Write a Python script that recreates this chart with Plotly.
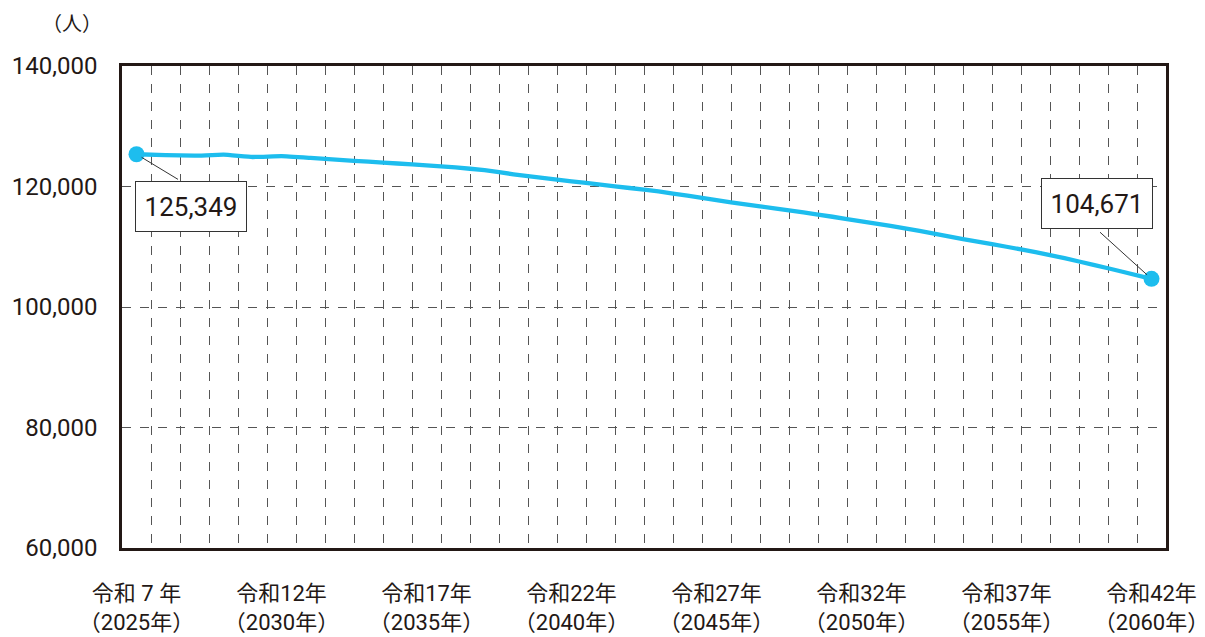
import plotly.graph_objects as go

# Projected population by year (persons)
years = list(range(2025, 2061))
population = [
    125349, 125200, 125110, 125280, 124900, 125030, 124750, 124420, 124120, 123820,
    123520, 123180, 122700, 122030, 121450, 120870, 120320, 119750, 119180, 118480,
    117720, 117030, 116370, 115700, 114980, 114220, 113450, 112620, 111720, 110850,
    110000, 109100, 108100, 107000, 105850, 104671,
]

label_years = [2025, 2030, 2035, 2040, 2045, 2050, 2055, 2060]
label_text = [
    "令和 7 年<br>（2025年）", "令和12年<br>（2030年）", "令和17年<br>（2035年）",
    "令和22年<br>（2040年）", "令和27年<br>（2045年）", "令和32年<br>（2050年）",
    "令和37年<br>（2055年）", "令和42年<br>（2060年）",
]
y_ticks = [60000, 80000, 100000, 120000, 140000]
y_unit = "（人）"

FONT = "Roboto, Noto Sans CJK JP, sans-serif"
INK = "#231815"
LINE_BLUE = "#1DBDEE"
GRID = "#555555"

fig = go.Figure()

# invisible helper trace so the per-year grid axis is rendered
fig.add_trace(go.Scatter(x=[years[0], years[-1]], y=[None, None], xaxis="x2",
                         mode="lines", showlegend=False, hoverinfo="skip"))

fig.add_trace(go.Scatter(
    x=years, y=population, mode="lines",
    line=dict(color=LINE_BLUE, width=4.3, shape="spline", smoothing=0.3),
    showlegend=False,
))
fig.add_trace(go.Scatter(
    x=[years[0], years[-1]], y=[population[0], population[-1]], mode="markers",
    marker=dict(color=LINE_BLUE, size=16), showlegend=False,
))

x_range = [years[0] - 0.5, years[-1] + 0.5]

fig.update_layout(
    width=1205, height=637,
    margin=dict(l=122, r=39, t=66, b=89, autoexpand=False),
    paper_bgcolor="white", plot_bgcolor="white",
    font=dict(family=FONT, color=INK),
    xaxis=dict(
        range=x_range, tickmode="array", tickvals=label_years, ticktext=label_text,
        showgrid=False, zeroline=False, ticks="", ticklabelstandoff=24,
        ticklabeloverflow="allow", automargin=False,
        tickfont=dict(size=22, family=FONT, color=INK),
        showline=True, mirror=True, linewidth=2.5, linecolor=INK,
    ),
    xaxis2=dict(
        range=x_range, overlaying="x", side="bottom", tick0=years[0] + 0.5, dtick=1,
        showgrid=True, griddash="dash", gridcolor=GRID, gridwidth=1,
        showticklabels=False, ticks="", zeroline=False, showline=False,
        automargin=False,
    ),
    yaxis=dict(
        range=[60000, 140000], tickmode="array", tickvals=y_ticks,
        tickformat=",", showgrid=True, griddash="dash", gridcolor=GRID, gridwidth=1,
        zeroline=False, ticks="", ticklabelstandoff=17, automargin=False,
        tickfont=dict(size=24, family=FONT, color=INK),
        showline=True, mirror=True, linewidth=2.5, linecolor=INK,
    ),
)

box_style = dict(
    xref="x", yref="y", showarrow=False, bgcolor="white",
    bordercolor="#333333", borderwidth=1, borderpad=0,
    width=110, height=49, font=dict(size=26, family=FONT, color=INK),
)
leader_style = dict(
    xref="x", yref="y", text="", showarrow=True, arrowhead=0,
    arrowwidth=1, arrowcolor="#333333", standoff=6,
)

fig.add_annotation(x=years[0], y=population[0], ax=43, ay=26, **leader_style)
fig.add_annotation(x=years[-1], y=population[-1], ax=-53, ay=-48, **leader_style)
fig.add_annotation(x=years[0], y=population[0], text=f"{population[0]:,}",
                   xshift=54, yshift=-52, **box_style)
fig.add_annotation(x=years[-1], y=population[-1], text=f"{population[-1]:,}",
                   xshift=-55, yshift=75, **box_style)

fig.add_annotation(xref="paper", yref="paper", x=-0.048, y=1.087, text=y_unit,
                   xanchor="center", yanchor="middle",
                   showarrow=False, font=dict(size=20, family=FONT, color=INK))

fig.write_html("out.html")
